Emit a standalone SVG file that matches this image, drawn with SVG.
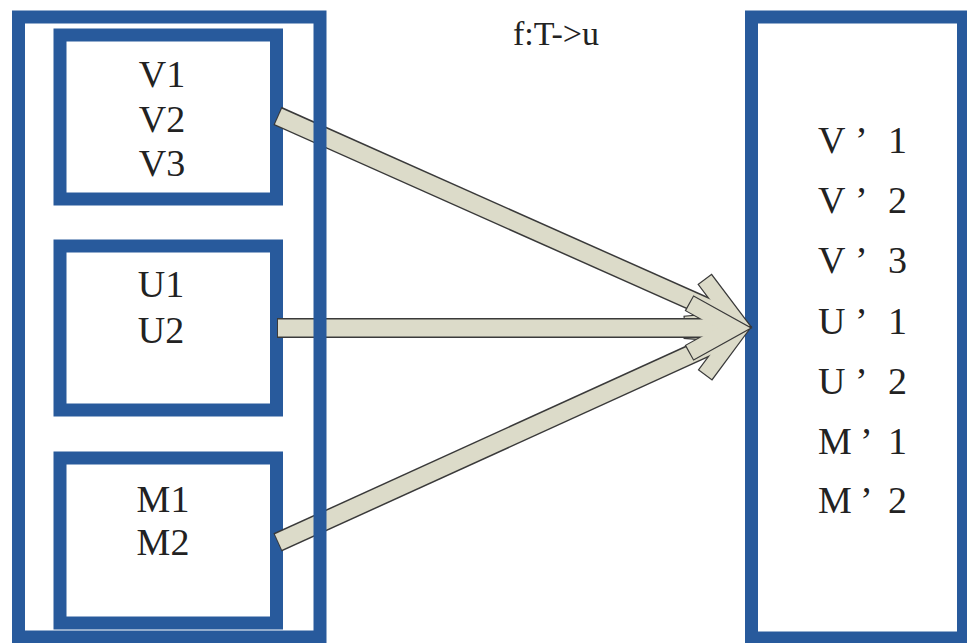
<svg xmlns="http://www.w3.org/2000/svg" width="967" height="643" viewBox="0 0 967 643">
<style>
.box{fill:#ffffff;stroke:#285a9c;stroke-width:13}
.outer{fill:none;stroke:#285a9c;stroke-width:13}
.t{font-family:'Liberation Serif','Times New Roman',serif;font-size:38px;fill:#222222}
.tm{text-anchor:middle}
.sd{stroke:#3a3a3a;stroke-width:20;fill:none;stroke-linecap:butt}
.sl{stroke:#dcdbc9;stroke-width:17;fill:none;stroke-linecap:butt}
.hd{stroke:#3a3a3a;stroke-width:18;fill:none;stroke-linecap:butt;stroke-linejoin:miter;stroke-miterlimit:6}
.hl{stroke:#dcdbc9;stroke-width:15.5;fill:none;stroke-linecap:butt;stroke-linejoin:miter;stroke-miterlimit:6}
</style>
<rect width="967" height="643" fill="#ffffff"/>
<g id="box-V" font-family="Liberation Serif, Times New Roman, serif">
<rect class="box" x="60" y="35" width="216.5" height="164"/>
<text class="t tm" x="162" y="87">V1</text>
<text class="t tm" x="162" y="132">V2</text>
<text class="t tm" x="162" y="176">V3</text>
</g>
<g id="box-U" font-family="Liberation Serif, Times New Roman, serif">
<rect class="box" x="60" y="246" width="216.5" height="164"/>
<text class="t tm" x="161" y="297">U1</text>
<text class="t tm" x="161" y="343">U2</text>
</g>
<g id="box-M" font-family="Liberation Serif, Times New Roman, serif">
<rect class="box" x="60" y="458" width="216.5" height="165"/>
<text class="t tm" x="163" y="512">M1</text>
<text class="t tm" x="163" y="555">M2</text>
</g>
<g id="box-target" font-family="Liberation Serif, Times New Roman, serif">
<rect class="box" x="751.5" y="17" width="212" height="621"/>
<text class="t" x="818" y="153">V<tspan x="855">’</tspan><tspan x="888">1</tspan></text>
<text class="t" x="818" y="213">V<tspan x="855">’</tspan><tspan x="888">2</tspan></text>
<text class="t" x="818" y="273">V<tspan x="855">’</tspan><tspan x="888">3</tspan></text>
<text class="t" x="818" y="334">U<tspan x="855">’</tspan><tspan x="888">1</tspan></text>
<text class="t" x="818" y="394">U<tspan x="855">’</tspan><tspan x="888">2</tspan></text>
<text class="t" x="818" y="454">M<tspan x="860">’</tspan><tspan x="888">1</tspan></text>
<text class="t" x="818" y="513">M<tspan x="860">’</tspan><tspan x="888">2</tspan></text>
</g>
<g id="connectors">
<g id="arrow-V" transform="translate(751,327) rotate(24.02)">
<path class="sd" d="M-518.4,0 H-24"/>
<path class="hd" d="M-62,-25 L-17,0 L-62,25"/>
<path class="sl" d="M-517.4,0 H-24"/>
<path class="hl" d="M-61,-24.4 L-17,0 L-61,24.4"/>
</g>
<g id="arrow-M" transform="translate(751,327) rotate(-24.47)">
<path class="sd" d="M-520.2,0 H-24"/>
<path class="hd" d="M-62,-25 L-17,0 L-62,25"/>
<path class="sl" d="M-519.2,0 H-24"/>
<path class="hl" d="M-61,-24.4 L-17,0 L-61,24.4"/>
</g>
<g id="arrow-U" transform="translate(751,328)">
<path class="sd" d="M-474,0 H-24"/>
<path class="hd" d="M-62,-25 L-17,0 L-62,25"/>
<path class="sl" d="M-473,0 H-24"/>
<path class="hl" d="M-61,-24.4 L-17,0 L-61,24.4"/>
</g>
</g>
<g id="box-T">
<rect class="outer" x="18.5" y="17" width="301.5" height="620"/>
</g>
<text id="label-f" class="t tm" x="556" y="45" font-family="Liberation Serif, Times New Roman, serif" style="font-size:34px">f:T-&gt;u</text>
</svg>
